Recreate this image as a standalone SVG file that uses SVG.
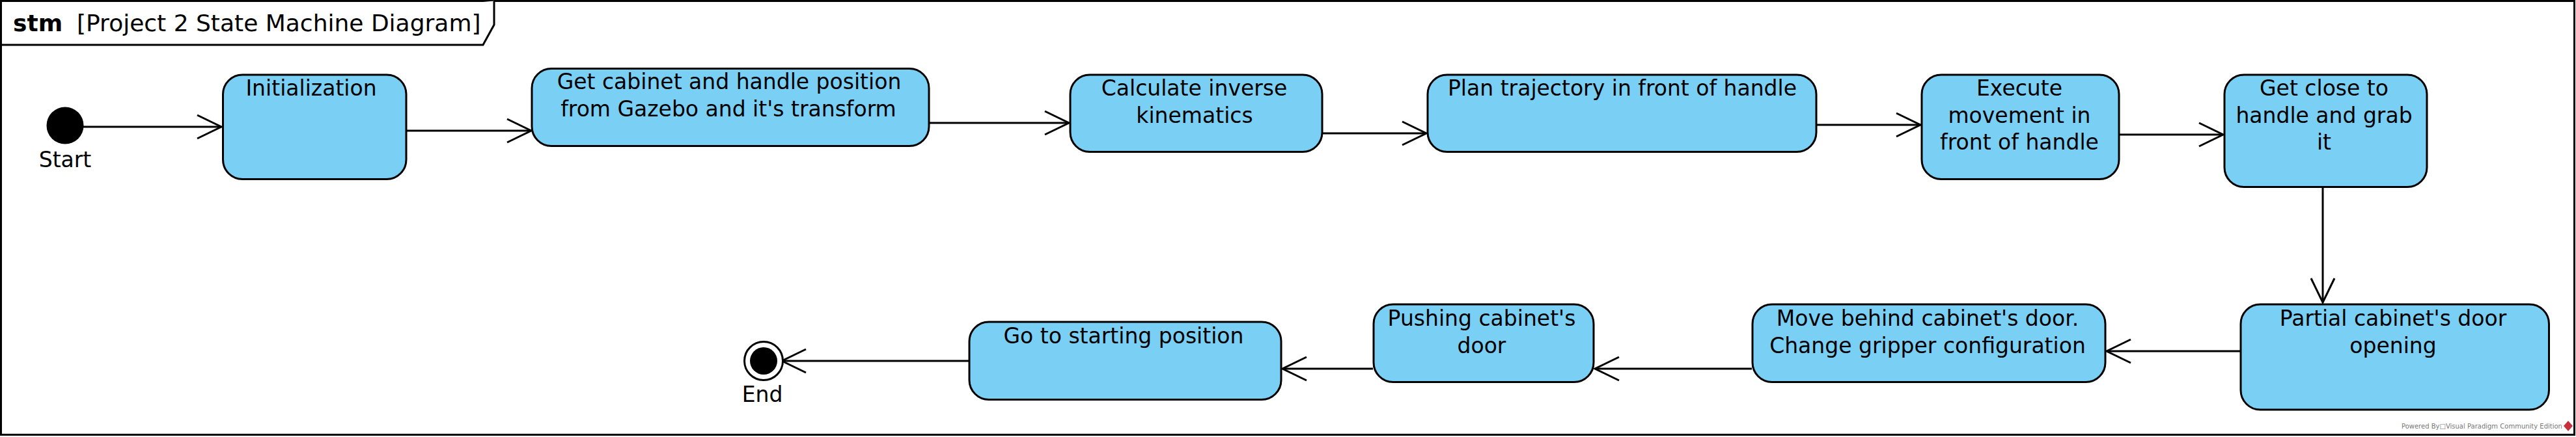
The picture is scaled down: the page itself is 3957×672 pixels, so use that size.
<svg xmlns="http://www.w3.org/2000/svg" width="3957" height="672" viewBox="0 0 3957 672">
<style>
text{font-family:"DejaVu Sans",sans-serif;font-size:33px;fill:#000}
.n{text-anchor:middle}
.s{fill:#7acff5;stroke:#000;stroke-width:3}
.c{fill:none;stroke:#000;stroke-width:3}
</style>
<defs>
<marker id="a" markerUnits="userSpaceOnUse" markerWidth="44" markerHeight="44" refX="38" refY="20" orient="auto"><path d="M1 2L38 20L1 38" fill="none" stroke="#000" stroke-width="3"/></marker>
</defs>
<rect width="3957" height="672" fill="#fff"/>
<g id="frame">
<rect x="1.5" y="1.5" width="3953" height="667" fill="none" stroke="#000" stroke-width="3"/>
<path d="M1.5 69H742L759 38V1.5" fill="#fff" stroke="#000" stroke-width="3"/>
<text x="20" y="48" style="font-size:36px;font-weight:bold">stm</text>
<text x="118" y="48" style="font-size:36px">[Project 2 State Machine Diagram]</text>
</g>
<g id="connectors">
<path class="c" marker-end="url(#a)" d="M128 195H340"/>
<path class="c" marker-end="url(#a)" d="M625 201H816"/>
<path class="c" marker-end="url(#a)" d="M1428 189H1642"/>
<path class="c" marker-end="url(#a)" d="M2032 205H2191"/>
<path class="c" marker-end="url(#a)" d="M2791 192H2950"/>
<path class="c" marker-end="url(#a)" d="M3256 207H3415"/>
<path class="c" marker-end="url(#a)" d="M3568 288V465"/>
<path class="c" marker-end="url(#a)" d="M3441 540H3236"/>
<path class="c" marker-end="url(#a)" d="M2691 567H2450"/>
<path class="c" marker-end="url(#a)" d="M2109 567H1970"/>
<path class="c" marker-end="url(#a)" d="M1488 555H1201"/>
</g>
<g id="start"><circle cx="100" cy="193" r="28.5"/><text class="n" x="100" y="257">Start</text></g>
<g id="init"><rect class="s" x="342.5" y="115" width="281.5" height="160.5" rx="30"/><text class="n" x="478" y="147">Initialization</text></g>
<g id="cabinet"><rect class="s" x="817" y="105.5" width="610" height="119" rx="30"/><text class="n" x="1120" y="137">Get cabinet and handle position</text><text class="n" x="1119" y="179">from Gazebo and it's transform</text></g>
<g id="ik"><rect class="s" x="1644" y="115" width="387" height="118.5" rx="30"/><text class="n" x="1834.5" y="147">Calculate inverse</text><text class="n" x="1835" y="188.5">kinematics</text></g>
<g id="plan"><rect class="s" x="2193" y="115" width="597" height="118.5" rx="30"/><text class="n" x="2492" y="147">Plan trajectory in front of handle</text></g>
<g id="exec"><rect class="s" x="2952" y="115" width="303" height="160.5" rx="30"/><text class="n" x="3102" y="147">Execute</text><text class="n" x="3102" y="188.5">movement in</text><text class="n" x="3102" y="230">front of handle</text></g>
<g id="grab"><rect class="s" x="3417" y="115" width="311" height="172.5" rx="30"/><text class="n" x="3570" y="147">Get close to</text><text class="n" x="3570" y="188.5">handle and grab</text><text class="n" x="3570" y="230">it</text></g>
<g id="partial"><rect class="s" x="3442" y="468" width="473.5" height="162" rx="30"/><text class="n" x="3676" y="501">Partial cabinet's door</text><text class="n" x="3676" y="543">opening</text></g>
<g id="move"><rect class="s" x="2692" y="468" width="542" height="119.5" rx="30"/><text class="n" x="2961" y="500.5">Move behind cabinet's door.</text><text class="n" x="2961" y="542.5">Change gripper configuration</text></g>
<g id="push"><rect class="s" x="2110" y="468" width="338" height="119.5" rx="30"/><text class="n" x="2276" y="500.5">Pushing cabinet's</text><text class="n" x="2276" y="542.5">door</text></g>
<g id="home"><rect class="s" x="1489" y="495" width="479" height="119.5" rx="30"/><text class="n" x="1726" y="527.5">Go to starting position</text></g>
<g id="end"><circle cx="1173" cy="555" r="29.5" fill="#fff" stroke="#000" stroke-width="3"/><circle cx="1173" cy="555" r="21"/><text class="n" x="1171" y="617.5">End</text></g>
<g id="credit"><text x="3689" y="659" style="font-size:10px;fill:#777">Powered By□Visual Paradigm Community Edition</text><path d="M3945 647L3952 655L3945 663L3938 655Z" fill="#c8303c"/></g>
</svg>
